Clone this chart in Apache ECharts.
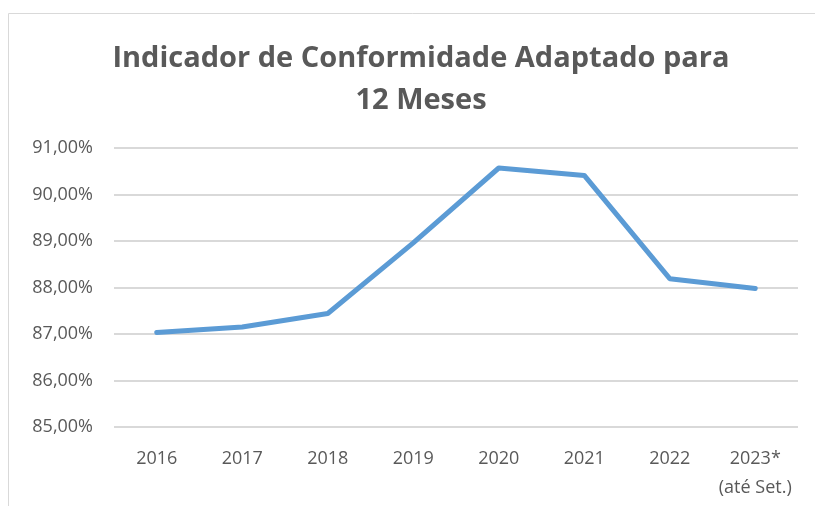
<!DOCTYPE html>
<html>
<head>
<meta charset="utf-8">
<script src="https://cdn.jsdelivr.net/npm/echarts@6/dist/echarts.min.js"></script>
<style>
  html, body { margin: 0; padding: 0; background: #fff; }
  #chart { width: 815px; height: 506px; }
</style>
</head>
<body>
<div id="chart"></div>
<script>
// dados
var anos = ["2016", "2017", "2018", "2019", "2020", "2021", "2022", "2023*\n(até Set.)"];
var indicador = [87.03, 87.15, 87.44, 88.96, 90.57, 90.41, 88.19, 87.98];
var yMin = 85, yMax = 91, yStep = 1;

var fonte = "'Open Sans', sans-serif";
var cinza = "#595959";

var myChart = echarts.init(document.getElementById("chart"));
myChart.setOption({
  animation: false,
  textStyle: { fontFamily: fonte },
  graphic: [
    {
      type: "rect",
      shape: { x: 8.5, y: 13.5, width: 900, height: 600 },
      style: { fill: "none", stroke: "#d9d9d9", lineWidth: 1 },
      silent: true
    }
  ],
  title: {
    text: "Indicador de Conformidade Adaptado para\n12 Meses",
    left: 416,
    textAlign: "center",
    top: 33,
    textStyle: {
      color: cinza,
      fontFamily: fonte,
      fontWeight: "bold",
      fontSize: 29,
      lineHeight: 42
    }
  },
  grid: {
    left: 114,
    right: 17,
    top: 148,
    bottom: 79
  },
  xAxis: {
    type: "category",
    data: anos,
    boundaryGap: true,
    axisLine: { show: false },
    axisTick: { show: false },
    axisLabel: {
      color: cinza,
      fontSize: 18,
      lineHeight: 29,
      margin: 17,
      interval: 0
    }
  },
  yAxis: {
    type: "value",
    min: yMin,
    max: yMax,
    interval: yStep,
    axisLine: { show: false },
    axisTick: { show: false },
    splitLine: { lineStyle: { color: "#d9d9d9", width: 2 } },
    axisLabel: {
      color: cinza,
      fontSize: 18,
      margin: 21,
      formatter: function (v) {
        return v.toFixed(2).replace(".", ",") + "%";
      }
    }
  },
  series: [
    {
      type: "line",
      data: indicador,
      symbol: "none",
      lineStyle: { color: "#5b9bd5", width: 5, cap: "round", join: "round" }
    }
  ]
});
</script>
</body>
</html>
